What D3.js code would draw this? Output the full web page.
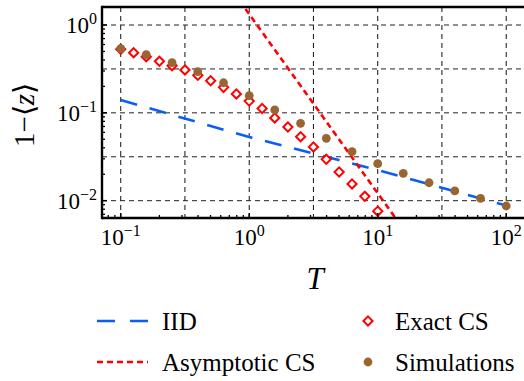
<!DOCTYPE html>
<html>
<head>
<meta charset="utf-8">
<script src="https://cdn.jsdelivr.net/npm/d3@7"></script>
<style>
  html, body { margin: 0; padding: 0; background: #fff; font-family: 'Liberation Serif', serif; }
  svg { display: block; font-family: 'Liberation Serif', serif; }
</style>
</head>
<body>
<svg id="chart" width="524" height="381"></svg>
<script>
// ---- data ----
const exactT = [0.1, 0.126, 0.158, 0.2, 0.251, 0.316, 0.398, 0.501, 0.631, 0.794, 1, 1.26, 1.58, 2, 2.51, 3.16, 3.98, 5.01, 6.31, 7.94, 10];
const exactV = [0.529, 0.484, 0.436, 0.386, 0.344, 0.308, 0.268, 0.232, 0.195, 0.164, 0.136, 0.112, 0.0874, 0.069, 0.0535, 0.0409, 0.0296, 0.0212, 0.0155, 0.0112, 0.0076];
const simT = [0.1, 0.158, 0.251, 0.398, 0.631, 1, 1.58, 2.51, 3.98, 6.31, 10, 15.8, 25.1, 39.8, 63.1, 100];
const simV = [0.537, 0.459, 0.372, 0.294, 0.220, 0.157, 0.108, 0.076, 0.0513, 0.0361, 0.0264, 0.0205, 0.0160, 0.0129, 0.0106, 0.0087];
const iidT = [0.1, 1, 10, 100];
const iidV = [0.14, 0.053, 0.0223, 0.0088];
const asymT = [0.5, 1, 10, 20];
const asymV = [5.48, 1.33, 0.01216, 0.00296];
const xMajor = [0.1, 1, 10, 100];
const xMajorExp = ["−1", "0", "1", "2"];
const yMajor = [1, 0.1, 0.01];
const yMajorExp = ["0", "−1", "−2"];
const xGrid = [0.1, 0.316, 1, 3.16, 10, 31.6, 100];
const yGrid = [1, 0.316, 0.1, 0.0316, 0.01];
const legendNames = ["IID", "Asymptotic CS", "Exact CS", "Simulations"];

// ---- layout ----
const FONT = "Liberation Serif";
const svg = d3.select("#chart");
const L = 102, R = 525, T0 = 7, B = 218;
const x = d3.scaleLog().domain([0.0715, 140]).range([L, R]);
const y = d3.scaleLog().domain([0.00635, 1.603]).range([B, T0]);

const colBlue = "#0a5ef5", colRed = "#ff0000", colBrown = "#996633";

svg.append("defs").append("clipPath").attr("id", "clip")
  .append("rect").attr("x", L).attr("y", T0).attr("width", R - L).attr("height", B - T0);

// grid
const grid = svg.append("g");
grid.selectAll(".gx").data(xGrid).join("line")
  .attr("x1", d => x(d)).attr("x2", d => x(d)).attr("y1", T0).attr("y2", B)
  .attr("stroke", "#111").attr("stroke-width", 1).attr("stroke-dasharray", "5,4");
grid.selectAll(".gy").data(yGrid).join("line")
  .attr("y1", d => y(d)).attr("y2", d => y(d)).attr("x1", L).attr("x2", R)
  .attr("stroke", "#222").attr("stroke-width", 1).attr("stroke-dasharray", "5,4");

const plot = svg.append("g").attr("clip-path", "url(#clip)");
const line = d3.line().x(d => x(d[0])).y(d => y(d[1]));

plot.append("path").datum(iidT.map((t, i) => [t, iidV[i]]))
  .attr("d", line).attr("fill", "none").attr("stroke", colBlue)
  .attr("stroke-width", 2.6).attr("stroke-dasharray", "17,13");

plot.append("path").datum(asymT.map((t, i) => [t, asymV[i]]))
  .attr("d", line).attr("fill", "none").attr("stroke", colRed)
  .attr("stroke-width", 2.6).attr("stroke-dasharray", "6,4");

const diamond = (cx, cy, r) => `M${cx},${cy - r}L${cx + r},${cy}L${cx},${cy + r}L${cx - r},${cy}Z`;

plot.selectAll(".ex").data(exactT.map((t, i) => [t, exactV[i]])).join("path")
  .attr("d", d => diamond(x(d[0]), y(d[1]), 4.6))
  .attr("fill", "#fff").attr("stroke", colRed).attr("stroke-width", 2);

plot.selectAll(".sim").data(simT.map((t, i) => [t, simV[i]])).join("circle")
  .attr("cx", d => x(d[0])).attr("cy", d => y(d[1])).attr("r", 4.4)
  .attr("fill", colBrown);

// minor ticks
const minorX = [], minorY = [];
[-3, -2, -1, 0, 1, 2].forEach(e => { for (let m = 2; m <= 9; m++) { const v = m * Math.pow(10, e);
  if (v > x.domain()[0] && v < x.domain()[1]) minorX.push(v);
  if (v > y.domain()[0] && v < y.domain()[1]) minorY.push(v); } });

const axes = svg.append("g");
axes.selectAll(".mx").data(minorX).join("line")
  .attr("x1", d => x(d)).attr("x2", d => x(d)).attr("y1", B).attr("y2", B - 3)
  .attr("stroke", "#000").attr("stroke-width", 1.3);
axes.selectAll(".Mx").data(xMajor).join("line")
  .attr("x1", d => x(d)).attr("x2", d => x(d)).attr("y1", B).attr("y2", B - 5)
  .attr("stroke", "#000").attr("stroke-width", 1.5);
axes.selectAll(".my").data(minorY).join("line")
  .attr("y1", d => y(d)).attr("y2", d => y(d)).attr("x1", L).attr("x2", L + 3)
  .attr("stroke", "#000").attr("stroke-width", 1.3);
axes.selectAll(".My").data(yMajor).join("line")
  .attr("y1", d => y(d)).attr("y2", d => y(d)).attr("x1", L).attr("x2", L + 5)
  .attr("stroke", "#000").attr("stroke-width", 1.5);

// frame
axes.append("line").attr("x1", L).attr("x2", L).attr("y1", T0 - 1.2).attr("y2", B + 1.2)
  .attr("stroke", "#000").attr("stroke-width", 2.4);
axes.append("line").attr("x1", L).attr("x2", 524).attr("y1", T0).attr("y2", T0)
  .attr("stroke", "#000").attr("stroke-width", 2.4);
axes.append("line").attr("x1", L).attr("x2", 524).attr("y1", B).attr("y2", B)
  .attr("stroke", "#000").attr("stroke-width", 2.4);

// tick labels
const xl = axes.selectAll(".xl").data(xMajor).join("text")
  .attr("x", d => x(d)).attr("y", 245).attr("text-anchor", "middle")
  .style("font-family", FONT).style("font-size", "23px").attr("fill", "#000");
xl.append("tspan").text("10");
xl.append("tspan").attr("dy", -9).style("font-size", "16px").text((d, i) => xMajorExp[i]);

const yl = axes.selectAll(".yl").data(yMajor).join("text")
  .attr("x", 97).attr("y", d => y(d) + 8).attr("text-anchor", "end")
  .style("font-family", FONT).style("font-size", "23px").attr("fill", "#000");
yl.append("tspan").text("10");
yl.append("tspan").attr("dy", -9).style("font-size", "16px").text((d, i) => yMajorExp[i]);

// axis titles
svg.append("text").attr("x", 315).attr("y", 289).attr("text-anchor", "middle")
  .style("font-family", FONT).style("font-size", "31px").style("font-style", "italic").text("T");
const yt = svg.append("text").attr("transform", "translate(34,115) rotate(-90)")
  .attr("text-anchor", "middle").style("font-family", FONT).style("font-size", "29px");
yt.append("tspan").text("1−⟨");
yt.append("tspan").style("font-style", "italic").text("z");
yt.append("tspan").text("⟩");

// legend
const lg = svg.append("g");
lg.append("line").attr("x1", 97).attr("x2", 149).attr("y1", 321).attr("y2", 321)
  .attr("stroke", colBlue).attr("stroke-width", 2.6).attr("stroke-dasharray", "18,15");
lg.append("line").attr("x1", 97).attr("x2", 148).attr("y1", 362).attr("y2", 362)
  .attr("stroke", colRed).attr("stroke-width", 2.6).attr("stroke-dasharray", "6,4");
lg.append("path").attr("d", diamond(368, 321, 4.6)).attr("fill", "#fff")
  .attr("stroke", colRed).attr("stroke-width", 2);
lg.append("circle").attr("cx", 368).attr("cy", 362).attr("r", 4.4).attr("fill", colBrown);
const lgPos = [[162, 329.5], [162, 370.5], [395, 329.5], [395, 370.5]];
lg.selectAll(".lt").data(legendNames).join("text")
  .attr("x", (d, i) => lgPos[i][0]).attr("y", (d, i) => lgPos[i][1])
  .style("font-family", FONT).style("font-size", "25px").text(d => d);
</script>
</body>
</html>
